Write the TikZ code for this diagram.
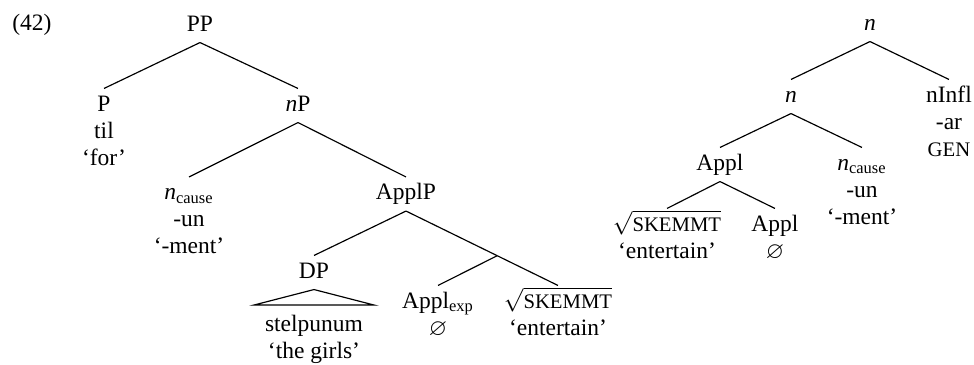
\documentclass[tikz,border=0pt]{standalone}
\usepackage{amsmath}
\usepackage{amssymb}
\usepackage{fontspec}
\setmainfont{Liberation Serif}
\usetikzlibrary{positioning, calc}

\newcommand{\smcaps}[1]{{\fontsize{8.8}{9}\selectfont #1}}

\begin{document}
\begin{tikzpicture}[x=0.4255pt, y=-0.4255pt, node distance=11.5pt]
        \tikzstyle{cat} = [text height=7.4pt, text depth=2.7pt, inner sep=2pt]
        \tikzstyle{lex} = [cat]
        \tikzstyle{branch} = [line width=0.5pt]

        \useasboundingbox (0,0) rectangle (974,364);

        \node (exnum) [cat] at (32,24.5) {(42)};

        % left tree
        \node (PP) [cat] at (200,25.5) {PP};
        \node (P) [cat] at (104,105.5) {P};
        \node (Ptil) [lex, below of=P] {til};
        \node (Pfor) [lex, below of=Ptil] {`for'};
        \node (nP) [cat] at (298,105.5) {\textit{n}P};
        \node (ncauseL) [cat] at (189,194) {\textit{n}\textsubscript{cause}};
        \node (ncauseLun) [lex, below of=ncauseL] {-un};
        \node (ncauseLment) [lex, below of=ncauseLun] {`-ment'};
        \node (ApplP) [cat] at (406,194) {ApplP};
        \node (DP) [cat] at (314,272.5) {DP};
        \node (stelp) [lex, below of=DP, yshift=-11.3pt] {stelpunum};
        \node (stelpgl) [lex, below of=stelp] {`the girls'};
        \node (Applexp) [cat] at (438,302.5) {Appl\textsubscript{exp}};
        \node (Applexpnull) [lex, below of=Applexp] {$\varnothing$};
        \node (rootL) [cat] at (558,302.5) {$\sqrt{\mbox{\smcaps{SKEMMT}}}$};
        \node (rootLgl) [lex, below of=rootL] {`entertain'};
        \coordinate (applbar) at ($(ApplP.south)!0.6!(rootL.north)$);

        \draw [branch] (PP.south) -- (P.north);
        \draw [branch] (PP.south) -- (nP.north);
        \draw [branch] (nP.south) -- (ncauseL.north);
        \draw [branch] (nP.south) -- (ApplP.north);
        \draw [branch] (ApplP.south) -- (DP.north);
        \draw [branch] (ApplP.south) -- (applbar);
        \draw [branch] (applbar) -- (Applexp.north);
        \draw [branch] (applbar) -- (rootL.north);
        \draw [branch] (DP.south) -- ($(stelp.north west)+(-6,-4)$) -- ($(stelp.north east)+(6,-4)$) -- cycle;

        % right tree
        \node (nTop) [cat] at (870,24.5) {\textit{n}};
        \node (nMid) [cat] at (791,96.5) {\textit{n}};
        \node (nInfl) [cat] at (949,96.5) {nInfl};
        \node (nInflar) [lex, below of=nInfl] {-ar};
        \node (nInflgen) [lex, below of=nInflar] {\smcaps{GEN}};
        \node (ApplR) [cat] at (720,164.5) {Appl};
        \node (ncauseR) [cat] at (862,164.5) {\textit{n}\textsubscript{cause}};
        \node (ncauseRun) [lex, below of=ncauseR] {-un};
        \node (ncauseRment) [lex, below of=ncauseRun] {`-ment'};
        \node (rootR) [cat] at (667,225.5) {$\sqrt{\mbox{\smcaps{SKEMMT}}}$};
        \node (rootRgl) [lex, below of=rootR] {`entertain'};
        \node (ApplRhead) [cat] at (775,225.5) {Appl};
        \node (ApplRnull) [lex, below of=ApplRhead] {$\varnothing$};

        \draw [branch] (nTop.south) -- (nMid.north);
        \draw [branch] (nTop.south) -- (nInfl.north);
        \draw [branch] (nMid.south) -- (ApplR.north);
        \draw [branch] (nMid.south) -- (ncauseR.north);
        \draw [branch] (ApplR.south) -- (rootR.north);
        \draw [branch] (ApplR.south) -- (ApplRhead.north);
    \end{tikzpicture}
\end{document}
